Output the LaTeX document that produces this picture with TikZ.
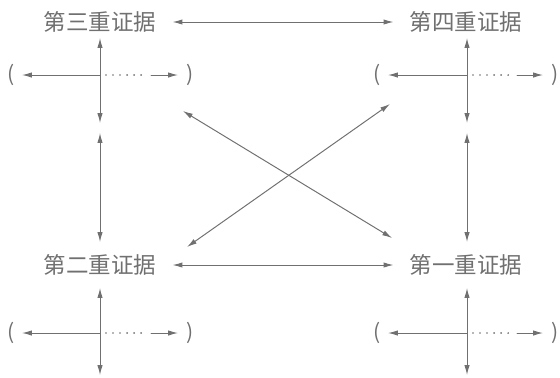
\documentclass[tikz,border=0pt]{standalone}
\usepackage{fontspec}
\setmainfont{Noto Sans CJK SC}
\usetikzlibrary{arrows.meta}
\definecolor{ink}{RGB}{112,112,112}
\begin{document}
\begin{tikzpicture}[
			x=0.025cm, y=-0.025cm,
			line cap=round, line join=round,
			label/.style={text=ink, inner sep=0pt, font=\fontsize{16}{16}\selectfont},
			paren/.style={text=ink, inner sep=0pt, font=\fontsize{15}{15}\selectfont},
			edge/.style={draw=ink, line width=0.7pt, >={Latex[length=7pt, width=3.8pt]}},
			dots/.style={draw=ink, line width=1.3pt, line cap=round, dash pattern=on 0pt off 5pt}
			]
			
			\useasboundingbox (0,0) rectangle (560,377);
			
			\node[label] (t3) at (100,22) {第三重证据};
			\node[label] (t4) at (466,22) {第四重证据};
			\node[label] (t2) at (100,265) {第二重证据};
			\node[label] (t1) at (466,265) {第一重证据};
			\path (t3.east) ++(16,0) coordinate (a1);
			\path (t4.west) ++(-16,0) coordinate (a2);
			\path (t2.east) ++(16,0) coordinate (b1);
			\path (t1.west) ++(-16,0) coordinate (b2);
			\draw[edge,<->] (a1)--(a2);
			\draw[edge,<->] (b1)--(b2);
			
			% links between the four
			\coordinate (v3) at (100,133); \coordinate (v2) at (100,242);
			\coordinate (v4) at (467,133); \coordinate (v1) at (467,242);
			\draw[edge,<->] (v3)--(v2);
			\draw[edge,<->] (v4)--(v1);
			\coordinate (x3) at (183,111); \coordinate (x1) at (392,238);
			\coordinate (x4) at (390,104); \coordinate (x2) at (187,247);
			\draw[edge,<->] (x3)--(x1);
			\draw[edge,<->] (x4)--(x2);
			
			% cross under the third
			\coordinate (c3) at (100,75);
			\coordinate (c3t) at (100,38); \coordinate (c3b) at (100,123);
			\coordinate (c3l) at (22,75); \coordinate (c3r) at (178,75);
			\coordinate (c3d) at (106,75); \coordinate (c3e) at (143,75); \coordinate (c3f) at (151,75);
			\node[paren] (p3l) at (11,75) {(};
			\node[paren] (p3r) at (190,75) {)};
			\draw[edge,<->] (c3t)--(c3b);
			\draw[edge,->] (c3)--(c3l);
			\draw[dots] (c3d)--(c3e);
			\draw[edge,->] (c3f)--(c3r);
			
			% cross under the fourth
			\coordinate (c4) at (467,75);
			\coordinate (c4t) at (467,38); \coordinate (c4b) at (467,123);
			\coordinate (c4l) at (388,75); \coordinate (c4r) at (543,75);
			\coordinate (c4d) at (473,75); \coordinate (c4e) at (510,75); \coordinate (c4f) at (517,75);
			\node[paren] (p4l) at (377,75) {(};
			\node[paren] (p4r) at (555,75) {)};
			\draw[edge,<->] (c4t)--(c4b);
			\draw[edge,->] (c4)--(c4l);
			\draw[dots] (c4d)--(c4e);
			\draw[edge,->] (c4f)--(c4r);
			
			% cross under the second
			\coordinate (c2) at (100,333);
			\coordinate (c2t) at (100,288); \coordinate (c2b) at (100,375);
			\coordinate (c2l) at (22,333); \coordinate (c2r) at (178,333);
			\coordinate (c2d) at (106,333); \coordinate (c2e) at (143,333); \coordinate (c2f) at (151,333);
			\node[paren] (p2l) at (11,333) {(};
			\node[paren] (p2r) at (190,333) {)};
			\draw[edge,<->] (c2t)--(c2b);
			\draw[edge,->] (c2)--(c2l);
			\draw[dots] (c2d)--(c2e);
			\draw[edge,->] (c2f)--(c2r);
			
			% cross under the first
			\coordinate (c1) at (467,333);
			\coordinate (c1t) at (467,288); \coordinate (c1b) at (467,375);
			\coordinate (c1l) at (388,333); \coordinate (c1r) at (543,333);
			\coordinate (c1d) at (473,333); \coordinate (c1e) at (510,333); \coordinate (c1f) at (517,333);
			\node[paren] (p1l) at (377,333) {(};
			\node[paren] (p1r) at (555,333) {)};
			\draw[edge,<->] (c1t)--(c1b);
			\draw[edge,->] (c1)--(c1l);
			\draw[dots] (c1d)--(c1e);
			\draw[edge,->] (c1f)--(c1r);
		\end{tikzpicture}
\end{document}
